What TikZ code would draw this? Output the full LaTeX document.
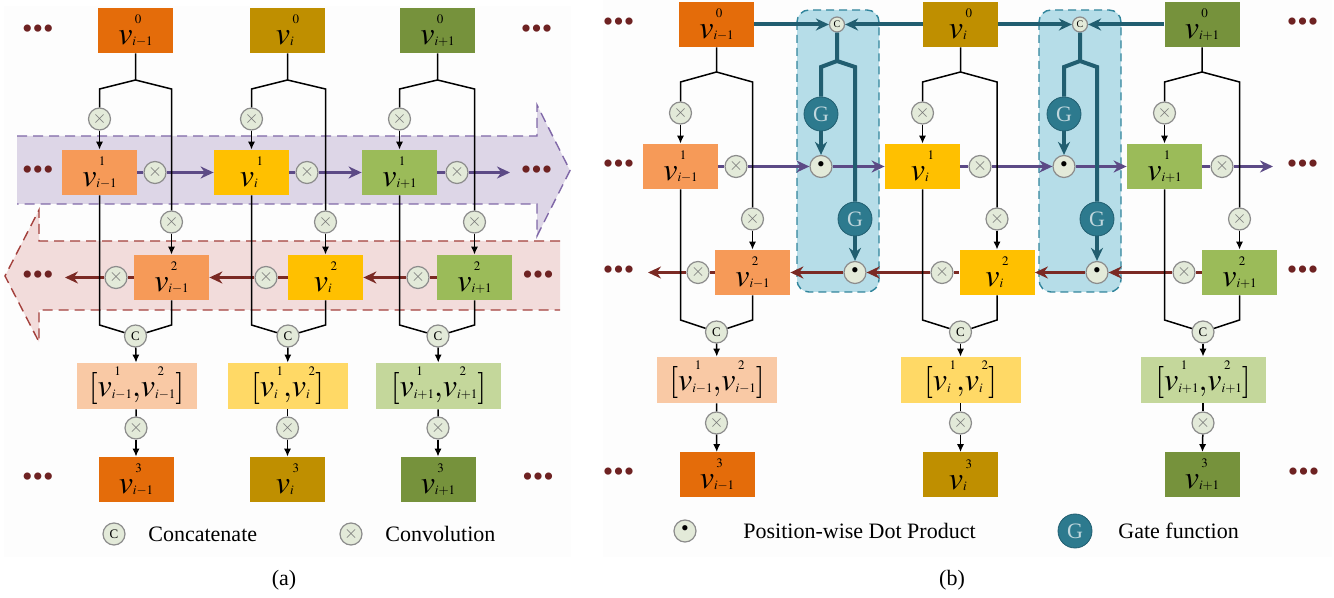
\documentclass[tikz,border=0pt]{standalone}
\usepackage{mathptmx}
\usepackage{fontspec}
\setmainfont{Liberation Serif}
\usetikzlibrary{arrows.meta}
\DeclareMathSizes{16}{16}{6.5}{5}
\newcommand{\vt}[2]{v\mbox{\ooalign{\raisebox{10.5pt}{$\scriptstyle\kern1.2pt #1$}\hfil\cr\raisebox{-0.6pt}{$\scriptstyle #2$}\hfil\cr}}}

\definecolor{cA}{HTML}{E46C0A}
\definecolor{cB}{HTML}{BF8F00}
\definecolor{cC}{HTML}{76923C}
\definecolor{lA}{HTML}{F69A58}
\definecolor{lB}{HTML}{FFC000}
\definecolor{lC}{HTML}{9BBB59}
\definecolor{pA}{HTML}{F9C9A5}
\definecolor{pB}{HTML}{FFD966}
\definecolor{pC}{HTML}{C4D79B}
\definecolor{fwdc}{HTML}{5C4A86}
\definecolor{bwdc}{HTML}{7B2A24}
\definecolor{dotc}{HTML}{6E2222}
\definecolor{bandP}{HTML}{DDD6E7}
\definecolor{bandPl}{HTML}{8068A8}
\definecolor{bandR}{HTML}{F2DCDB}
\definecolor{bandRl}{HTML}{A3403C}
\definecolor{gatebg}{HTML}{B6DDE8}
\definecolor{gatel}{HTML}{31859C}
\definecolor{tealc}{HTML}{215E70}
\definecolor{gfill}{HTML}{2D7A8E}
\definecolor{opfill}{HTML}{E3EAD9}
\definecolor{opline}{HTML}{8C8C8C}

\begin{document}
\begin{tikzpicture}[x=0.5pt, y=-0.5pt,
  vbox/.style={minimum width=37.5pt, minimum height=22.5pt, inner sep=0pt, font=\fontsize{16}{18}\selectfont},
  cbox/.style={vbox, minimum width=60pt, minimum height=23pt},
  op/.style={circle, draw=opline, fill=opfill, line width=0.6pt, minimum size=11pt, inner sep=0pt},
  conv/.style={op, text=black!55, font=\fontsize{9}{9}\selectfont},
  cat/.style={op, font=\fontsize{6.5}{6.5}\selectfont},
  gcat/.style={op, minimum size=7.5pt, font=\fontsize{5}{5}\selectfont},
  dotp/.style={op, font=\fontsize{11}{11}\selectfont},
  gate/.style={circle, draw=tealc, fill=gfill, minimum size=17pt, inner sep=0pt, text=white!70!gfill, font=\fontsize{11}{11}\selectfont},
  dots/.style={inner sep=0pt, text=dotc, font=\fontsize{15}{15}\selectfont},
  wire/.style={line width=0.75pt},
  arr/.style={-{Latex[length=4pt,width=3.6pt]}},
  fwd/.style={draw=fwdc, line width=1.5pt},
  bwd/.style={draw=bwdc, line width=1.5pt},
  head/.style={-{Stealth[length=6.5pt,width=6pt]}},
  tline/.style={draw=tealc, line width=2pt},
  lbl/.style={anchor=west, inner sep=0pt, font=\fontsize{11}{13}\selectfont}]
\useasboundingbox (0,0) rectangle (1334,598);
\fill[black!0.8] (4,6) rectangle (571,557);
\fill[black!0.8] (603,0) rectangle (1332,557);

% (a) bands
\fill[bandP] (17,136) -- (537,136) -- (537,105) -- (570,170.5) -- (537,236) -- (537,204) -- (17,204) -- cycle;
\draw[bandPl, line width=0.7pt, dash pattern=on 5pt off 3pt] (17,136) -- (537,136) -- (537,105) -- (570,170.5) -- (537,236) -- (537,204) -- (17,204);
\fill[bandR] (560,241) -- (39,241) -- (39,210) -- (5,276) -- (39,342) -- (39,310) -- (560,310) -- cycle;
\draw[bandRl, line width=0.7pt, dash pattern=on 5pt off 3pt] (560,241) -- (39,241) -- (39,210) -- (5,276) -- (39,342) -- (39,310) -- (560,310);

% (b) gate boxes
\draw[gatel, fill=gatebg, line width=0.7pt, dash pattern=on 4pt off 2.5pt, rounded corners=6pt] (797,10) rectangle (879,292);
\draw[gatel, fill=gatebg, line width=0.7pt, dash pattern=on 4pt off 2.5pt, rounded corners=6pt] (1039,10) rectangle (1121,292);

% (a) nodes
\node[vbox, fill=cA] (aL0) at (135.5,30.5) {$\vt{0}{i-1}$};
\node[vbox, fill=cB] (aM0) at (287.5,30.5) {$\vt{0}{i}$};
\node[vbox, fill=cC] (aR0) at (437.5,30.5) {$\vt{0}{i+1}$};
\node[vbox, fill=lA] (aL1) at (99.5,172.5) {$\vt{1}{i-1}$};
\node[vbox, fill=lB] (aM1) at (251.5,172.5) {$\vt{1}{i}$};
\node[vbox, fill=lC] (aR1) at (399.5,172.5) {$\vt{1}{i+1}$};
\node[vbox, fill=lA] (aL2) at (171.5,277.5) {$\vt{2}{i-1}$};
\node[vbox, fill=lB] (aM2) at (325.5,277.5) {$\vt{2}{i}$};
\node[vbox, fill=lC] (aR2) at (474.5,277.5) {$\vt{2}{i+1}$};
\node[cbox, fill=pA] (aLb) at (136.5,386) {$[\vt{1}{i-1}{,}\vt{2}{i-1}]$};
\node[cbox, fill=pB] (aMb) at (287.5,386) {$[\vt{1}{i}{,}\vt{2}{i}]$};
\node[cbox, fill=pC, minimum width=62.5pt] (aRb) at (438.5,386) {$[\vt{1}{i+1}{,}\vt{2}{i+1}]$};
\node[vbox, fill=cA] (aL3) at (136,479.5) {$\vt{3}{i-1}$};
\node[vbox, fill=cB] (aM3) at (287.5,479.5) {$\vt{3}{i}$};
\node[vbox, fill=cC] (aR3) at (438,479.5) {$\vt{3}{i+1}$};

\node[conv] (aLx1) at (99.5,119) {$\times$};
\node[conv] (aLx2) at (171.5,222) {$\times$};
\node[conv] (aMx1) at (251.5,119) {$\times$};
\node[conv] (aMx2) at (325.5,222) {$\times$};
\node[conv] (aRx1) at (399.5,119) {$\times$};
\node[conv] (aRx2) at (474.5,222) {$\times$};
\node[conv] (aLh1) at (155,172.5) {$\times$};
\node[conv] (aMh1) at (307,172.5) {$\times$};
\node[conv] (aRh1) at (457,172.5) {$\times$};
\node[conv] (aLh2) at (116,277.5) {$\times$};
\node[conv] (aMh2) at (266,277.5) {$\times$};
\node[conv] (aRh2) at (418,277.5) {$\times$};
\node[cat] (aLc) at (135.5,336) {C};
\node[cat] (aMc) at (288,336) {C};
\node[cat] (aRc) at (438,336) {C};
\node[conv] (aLx3) at (136,428) {$\times$};
\node[conv] (aMx3) at (287.5,428) {$\times$};
\node[conv] (aRx3) at (438,428) {$\times$};

\node[dots] (aDl0) at (38,32) {\textbullet\textbullet\textbullet};
\node[dots] (aDl1) at (38,172.5) {\textbullet\textbullet\textbullet};
\node[dots] (aDl2) at (38,277.5) {\textbullet\textbullet\textbullet};
\node[dots] (aDl3) at (38,480) {\textbullet\textbullet\textbullet};
\node[dots] (aDr0) at (536.5,32) {\textbullet\textbullet\textbullet};
\node[dots] (aDr1) at (536.5,172.5) {\textbullet\textbullet\textbullet};
\node[dots] (aDr2) at (538,277.5) {\textbullet\textbullet\textbullet};
\node[dots] (aDr3) at (538,480) {\textbullet\textbullet\textbullet};

\coordinate (aLs) at (135.5,80);
\coordinate (aMs) at (287.5,80);
\coordinate (aRs) at (437.5,80);
\coordinate (aRe) at (510,172.5);
\coordinate (aLe) at (65,277.5);

% (a) flows
\draw[fwd] (aL1) -- (aLh1);
\draw[fwd, head] (aLh1) -- (aM1);
\draw[fwd] (aM1) -- (aMh1);
\draw[fwd, head] (aMh1) -- (aR1);
\draw[fwd] (aR1) -- (aRh1);
\draw[fwd, head] (aRh1) -- (aRe);
\draw[bwd] (aR2) -- (aRh2);
\draw[bwd, head] (aRh2) -- (aM2);
\draw[bwd] (aM2) -- (aMh2);
\draw[bwd, head] (aMh2) -- (aL2);
\draw[bwd] (aL2) -- (aLh2);
\draw[bwd, head] (aLh2) -- (aLe);

% (a) wires
\draw[wire] (aL0) -- (aLs) -- (99.5,89) -- (aLx1);
\draw[wire] (aLs) -- (171.5,89) -- (aLx2);
\draw[wire] (aM0) -- (aMs) -- (251.5,89) -- (aMx1);
\draw[wire] (aMs) -- (325.5,89) -- (aMx2);
\draw[wire] (aR0) -- (aRs) -- (399.5,89) -- (aRx1);
\draw[wire] (aRs) -- (474.5,89) -- (aRx2);
\draw[wire, arr] (aLx1) -- (aL1);
\draw[wire, arr] (aLx2) -- (aL2);
\draw[wire, arr] (aMx1) -- (aM1);
\draw[wire, arr] (aMx2) -- (aM2);
\draw[wire, arr] (aRx1) -- (aR1);
\draw[wire, arr] (aRx2) -- (aR2);
\draw[wire] (aL1) -- (99.5,325) -- (aLc);
\draw[wire] (aL2) -- (171.5,325) -- (aLc);
\draw[wire] (aM1) -- (251.5,325) -- (aMc);
\draw[wire] (aM2) -- (325.5,325) -- (aMc);
\draw[wire] (aR1) -- (399.5,325) -- (aRc);
\draw[wire] (aR2) -- (474.5,325) -- (aRc);
\draw[wire, arr] (aLc) -- (aLb);
\draw[wire, arr] (aMc) -- (aMb);
\draw[wire, arr] (aRc) -- (aRb);
\draw[wire] (aLb) -- (aLx3);
\draw[wire] (aMb) -- (aMx3);
\draw[wire] (aRb) -- (aRx3);
\draw[wire, arr] (aLx3) -- (aL3);
\draw[wire, arr] (aMx3) -- (aM3);
\draw[wire, arr] (aRx3) -- (aR3);

% (b) nodes
\node[vbox, fill=cA] (bL0) at (716.5,24.5) {$\vt{0}{i-1}$};
\node[vbox, fill=cB] (bM0) at (960.5,24.5) {$\vt{0}{i}$};
\node[vbox, fill=cC] (bR0) at (1202,24.5) {$\vt{0}{i+1}$};
\node[vbox, fill=lA] (bL1) at (680.5,166.5) {$\vt{1}{i-1}$};
\node[vbox, fill=lB] (bM1) at (922.5,166.5) {$\vt{1}{i}$};
\node[vbox, fill=lC] (bR1) at (1164.5,166.5) {$\vt{1}{i+1}$};
\node[vbox, fill=lA] (bL2) at (752.5,272.5) {$\vt{2}{i-1}$};
\node[vbox, fill=lB] (bM2) at (997,272.5) {$\vt{2}{i}$};
\node[vbox, fill=lC] (bR2) at (1239.5,272.5) {$\vt{2}{i+1}$};
\node[cbox, fill=pA] (bLb) at (717,380) {$[\vt{1}{i-1}{,}\vt{2}{i-1}]$};
\node[cbox, fill=pB] (bMb) at (960.5,380) {$[\vt{1}{i}{,}\vt{2}{i}]$};
\node[cbox, fill=pC, minimum width=62.5pt] (bRb) at (1203,380) {$[\vt{1}{i+1}{,}\vt{2}{i+1}]$};
\node[vbox, fill=cA] (bL3) at (717,475) {$\vt{3}{i-1}$};
\node[vbox, fill=cB] (bM3) at (960.5,475) {$\vt{3}{i}$};
\node[vbox, fill=cC] (bR3) at (1202,475) {$\vt{3}{i+1}$};

\node[conv] (bLx1) at (680.5,113) {$\times$};
\node[conv] (bLx2) at (752.5,219) {$\times$};
\node[conv] (bMx1) at (922.5,113) {$\times$};
\node[conv] (bMx2) at (997,219) {$\times$};
\node[conv] (bRx1) at (1164.5,113) {$\times$};
\node[conv] (bRx2) at (1239.5,219) {$\times$};
\node[conv] (bLh1) at (736,166.5) {$\times$};
\node[conv] (bMh1) at (980,166.5) {$\times$};
\node[conv] (bRh1) at (1222,166.5) {$\times$};
\node[conv] (bLh2) at (698,272.5) {$\times$};
\node[conv] (bMh2) at (942,272.5) {$\times$};
\node[conv] (bRh2) at (1184,272.5) {$\times$};
\node[cat] (bLc) at (716.5,332) {C};
\node[cat] (bMc) at (960.5,332) {C};
\node[cat] (bRc) at (1203,332) {C};
\node[conv] (bLx3) at (716.5,423) {$\times$};
\node[conv] (bMx3) at (960.5,423) {$\times$};
\node[conv] (bRx3) at (1203,423) {$\times$};

\node[gcat] (gC1) at (837,24.5) {C};
\node[gate] (gA1) at (821,114) {G};
\node[gate] (gB1) at (855,219) {G};
\node[dotp] (gD1) at (821,166.5) {\textbullet};
\node[dotp] (gE1) at (855,272.5) {\textbullet};
\node[gcat] (gC2) at (1080,24.5) {C};
\node[gate] (gA2) at (1064,114) {G};
\node[gate] (gB2) at (1097,219) {G};
\node[dotp] (gD2) at (1064,166.5) {\textbullet};
\node[dotp] (gE2) at (1097,272.5) {\textbullet};

\node[dots] (bDl0) at (618.5,24.5) {\textbullet\textbullet\textbullet};
\node[dots] (bDl1) at (618.5,166.5) {\textbullet\textbullet\textbullet};
\node[dots] (bDl2) at (618.5,272.5) {\textbullet\textbullet\textbullet};
\node[dots] (bDl3) at (618.5,475) {\textbullet\textbullet\textbullet};
\node[dots] (bDr0) at (1302.5,24.5) {\textbullet\textbullet\textbullet};
\node[dots] (bDr1) at (1302.5,166.5) {\textbullet\textbullet\textbullet};
\node[dots] (bDr2) at (1302.5,272.5) {\textbullet\textbullet\textbullet};
\node[dots] (bDr3) at (1303.5,475) {\textbullet\textbullet\textbullet};

\coordinate (bLs) at (716.5,72);
\coordinate (bMs) at (960.5,72);
\coordinate (bRs) at (1202,72);
\coordinate (bRe) at (1273,166.5);
\coordinate (bLe) at (648,272.5);
\coordinate (gS1) at (837,61);
\coordinate (gS2) at (1080,61);

% (b) flows
\draw[fwd] (bL1) -- (bLh1);
\draw[fwd, head] (bLh1) -- (gD1);
\draw[fwd, head] (gD1) -- (bM1);
\draw[fwd] (bM1) -- (bMh1);
\draw[fwd, head] (bMh1) -- (gD2);
\draw[fwd, head] (gD2) -- (bR1);
\draw[fwd] (bR1) -- (bRh1);
\draw[fwd, head] (bRh1) -- (bRe);
\draw[bwd] (bR2) -- (bRh2);
\draw[bwd, head] (bRh2) -- (gE2);
\draw[bwd, head] (gE2) -- (bM2);
\draw[bwd] (bM2) -- (bMh2);
\draw[bwd, head] (bMh2) -- (gE1);
\draw[bwd, head] (gE1) -- (bL2);
\draw[bwd] (bL2) -- (bLh2);
\draw[bwd, head] (bLh2) -- (bLe);

% (b) wires
\draw[wire] (bL0) -- (bLs) -- (680.5,82) -- (bLx1);
\draw[wire] (bLs) -- (752.5,82) -- (bLx2);
\draw[wire] (bM0) -- (bMs) -- (922.5,82) -- (bMx1);
\draw[wire] (bMs) -- (997,82) -- (bMx2);
\draw[wire] (bR0) -- (bRs) -- (1164.5,82) -- (bRx1);
\draw[wire] (bRs) -- (1239.5,82) -- (bRx2);
\draw[wire, arr] (bLx1) -- (bL1);
\draw[wire, arr] (bLx2) -- (bL2);
\draw[wire, arr] (bMx1) -- (bM1);
\draw[wire, arr] (bMx2) -- (bM2);
\draw[wire, arr] (bRx1) -- (bR1);
\draw[wire, arr] (bRx2) -- (bR2);
\draw[wire] (bL1) -- (680.5,320) -- (bLc);
\draw[wire] (bL2) -- (752.5,320) -- (bLc);
\draw[wire] (bM1) -- (922.5,320) -- (bMc);
\draw[wire] (bM2) -- (997,320) -- (bMc);
\draw[wire] (bR1) -- (1164.5,320) -- (bRc);
\draw[wire] (bR2) -- (1239.5,320) -- (bRc);
\draw[wire, arr] (bLc) -- (bLb);
\draw[wire, arr] (bMc) -- (bMb);
\draw[wire, arr] (bRc) -- (bRb);
\draw[wire] (bLb) -- (bLx3);
\draw[wire] (bMb) -- (bMx3);
\draw[wire] (bRb) -- (bRx3);
\draw[wire, arr] (bLx3) -- (bL3);
\draw[wire, arr] (bMx3) -- (bM3);
\draw[wire, arr] (bRx3) -- (bR3);

% gates
\draw[tline, head] (bL0) -- (gC1);
\draw[tline, head] (bM0) -- (gC1);
\draw[tline] (gC1) -- (gS1) -- (821,67) -- (gA1);
\draw[tline] (gS1) -- (855,67) -- (gB1);
\draw[tline, head] (gA1) -- (gD1);
\draw[tline, head] (gB1) -- (gE1);
\draw[tline, head] (bM0) -- (gC2);
\draw[tline, head] (bR0) -- (gC2);
\draw[tline] (gC2) -- (gS2) -- (1064,67) -- (gA2);
\draw[tline] (gS2) -- (1097,67) -- (gB2);
\draw[tline, head] (gA2) -- (gD2);
\draw[tline, head] (gB2) -- (gE2);

% legends
\node[cat] (lgC) at (114,534) {C};
\node[lbl] (lgCt) at (148,534) {Concatenate};
\node[conv] (lgX) at (351,534) {$\times$};
\node[lbl] (lgXt) at (385,534) {Convolution};
\node[dotp] (lgD) at (685,531) {\textbullet};
\node[lbl] (lgDt) at (743,531) {Position-wise Dot Product};
\node[gate] (lgG) at (1075,531) {G};
\node[lbl] (lgGt) at (1118,531) {Gate function};
\node[font=\fontsize{11}{13}\selectfont] (capA) at (284,580) {(a)};
\node[font=\fontsize{11}{13}\selectfont] (capB) at (952,580) {(b)};
\end{tikzpicture}
\end{document}
